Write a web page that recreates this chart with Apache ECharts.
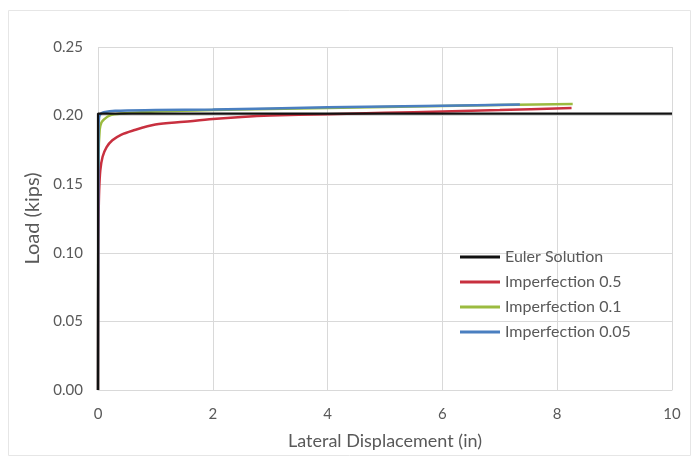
<!DOCTYPE html>
<html><head><meta charset="utf-8">
<script src="https://cdn.jsdelivr.net/npm/echarts@6/dist/echarts.min.js"></script>
<style>html,body{margin:0;padding:0;background:#fff}#c{width:699px;height:460px}</style>
</head><body><div id="c"></div>
<script>
const xTicks = [0, 2, 4, 6, 8, 10];
const yTicks = [0.00, 0.05, 0.10, 0.15, 0.20, 0.25];
const seriesNames = ['Euler Solution', 'Imperfection 0.5', 'Imperfection 0.1', 'Imperfection 0.05'];
const eulerX = [0, 0, 10];
const eulerY = [0, 0.2015, 0.2015];
const imp05X = [0, 0.005, 0.01, 0.02, 0.04, 0.08, 0.15, 0.25, 0.4, 0.6, 1.0, 1.5, 2.0, 2.5, 3.0, 4.0, 5.0, 6.0, 7.0, 8.25];
const imp05Y = [0, 0.10, 0.125, 0.145, 0.160, 0.170, 0.177, 0.182, 0.186, 0.189, 0.1935, 0.1955, 0.1975, 0.199, 0.2, 0.201, 0.202, 0.203, 0.204, 0.2055];
const imp01X = [0, 0.01, 0.03, 0.06, 0.1, 0.2, 0.4, 1.0, 2.0, 4.0, 6.0, 8.27];
const imp01Y = [0, 0.17, 0.19, 0.195, 0.197, 0.2, 0.2015, 0.203, 0.204, 0.2055, 0.207, 0.2085];
const imp005X = [0, 0.01, 0.02, 0.05, 0.1, 0.3, 1.0, 2.0, 4.0, 6.0, 7.35];
const imp005Y = [0, 0.19, 0.199, 0.2015, 0.2025, 0.2035, 0.204, 0.2045, 0.206, 0.2072, 0.208];
const colors = ['#111111', '#c8303f', '#9bbb40', '#4a7fc0'];

const zip = (xs, ys) => xs.map((x, i) => [x, ys[i]]);
const chart = echarts.init(document.getElementById('c'), null, {renderer: 'canvas'});
const font = 'Lato, "Open Sans", sans-serif';
chart.setOption({
  animation: false,
  backgroundColor: '#fff',
  textStyle: {fontFamily: font},
  graphic: [{type: 'rect', shape: {x: 8.5, y: 10.5, width: 682, height: 445}, style: {fill: 'none', stroke: '#e6e6e6', lineWidth: 1}, silent: true}],
  grid: {left: 98, right: 27, top: 47, bottom: 70},
  legend: {
    data: seriesNames, orient: 'vertical', left: 455, top: 244, itemGap: 9,
    itemWidth: 40, itemHeight: 3, icon: 'rect',
    textStyle: {color: '#595959', fontSize: 16, fontFamily: font, padding: [0, 0, 0, 0]}
  },
  xAxis: {
    type: 'value', min: 0, max: 10, interval: 2,
    name: 'Lateral Displacement (in)', nameLocation: 'middle', nameGap: 42,
    nameTextStyle: {color: '#595959', fontSize: 18, fontFamily: font},
    axisLine: {show: true, onZero: false, lineStyle: {color: '#d9d9d9'}},
    axisTick: {show: false},
    axisLabel: {color: '#595959', fontSize: 15, margin: 17, fontFamily: font},
    splitLine: {show: true, lineStyle: {color: '#d9d9d9'}}
  },
  yAxis: {
    type: 'value', min: 0, max: 0.25, interval: 0.05,
    name: 'Load (kips)', nameLocation: 'middle', nameGap: 55,
    nameTextStyle: {color: '#595959', fontSize: 20, fontFamily: font},
    axisLine: {show: false}, axisTick: {show: false},
    axisLabel: {color: '#595959', fontSize: 15, margin: 15, fontFamily: font, formatter: v => v.toFixed(2)},
    splitLine: {show: true, lineStyle: {color: '#d9d9d9'}}
  },
  series: [
    {name: seriesNames[0], type: 'line', data: zip(eulerX, eulerY), symbol: 'none', z: 5, lineStyle: {color: colors[0], width: 2.2}, itemStyle: {color: colors[0]}},
    {name: seriesNames[1], type: 'line', data: zip(imp05X, imp05Y), symbol: 'none', smooth: 0.3, z: 3, lineStyle: {color: colors[1], width: 2.5}, itemStyle: {color: colors[1]}},
    {name: seriesNames[2], type: 'line', data: zip(imp01X, imp01Y), symbol: 'none', smooth: 0.3, z: 2, lineStyle: {color: colors[2], width: 2.5}, itemStyle: {color: colors[2]}},
    {name: seriesNames[3], type: 'line', data: zip(imp005X, imp005Y), symbol: 'none', smooth: 0.3, z: 4, lineStyle: {color: colors[3], width: 2.5}, itemStyle: {color: colors[3]}}
  ]
});
</script></body></html>
